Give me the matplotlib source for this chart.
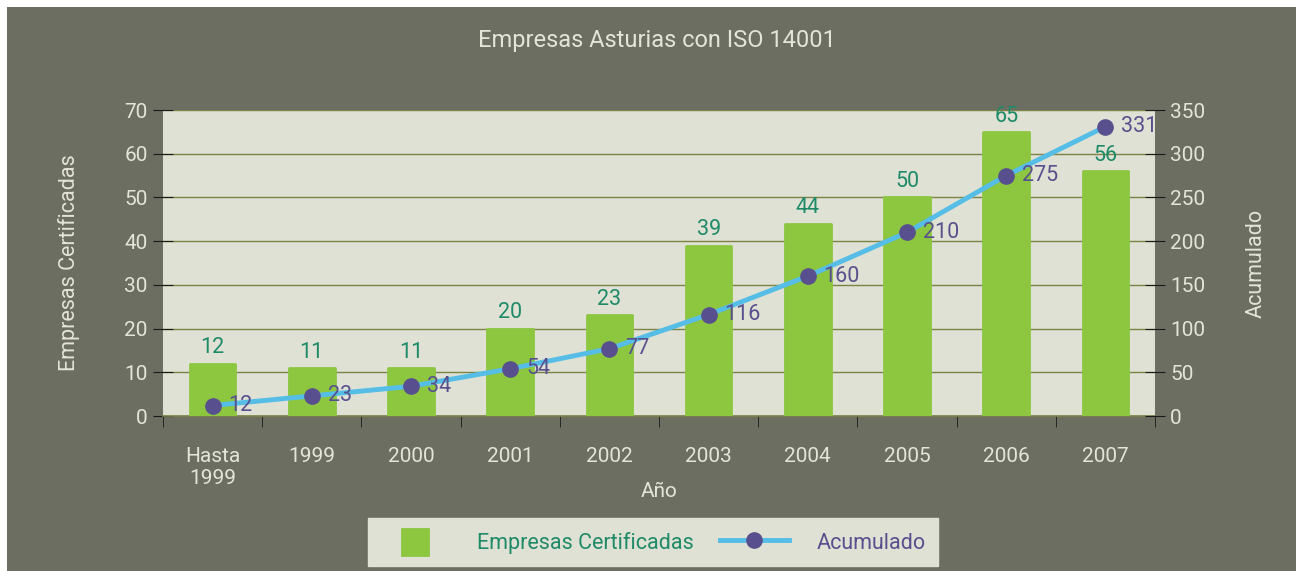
import numpy as np
import matplotlib
matplotlib.use("Agg")
import matplotlib.pyplot as plt
from matplotlib.patches import Rectangle
from matplotlib.legend_handler import HandlerPatch

plt.rcParams['font.family'] = ['Roboto', 'DejaVu Sans']

# datos
years = ["Hasta\n1999", "1999", "2000", "2001", "2002", "2003", "2004", "2005", "2006", "2007"]
certificadas = [12, 11, 11, 20, 23, 39, 44, 50, 65, 56]
acumulado = [12, 23, 34, 54, 77, 116, 160, 210, 275, 331]

bg = "#6d6e62"
panel = "#dfe1d4"
txt = "#e4e4d8"
green_bar = "#8dc63f"
green_txt = "#1e8a68"
blue = "#55bde6"
purple = "#58508e"
grid = "#7e8245"

fig = plt.figure(figsize=(12.96, 5.71), dpi=100, facecolor="white")
fig.patches.append(Rectangle((7/1296, 0), 1, 1 - 7/571, transform=fig.transFigure,
                             facecolor=bg, edgecolor="none", zorder=-10))

ax = fig.add_axes([163/1296, 1 - 416/571, (1155 - 163)/1296, (416 - 110)/571])
ax.set_facecolor(panel)
x = np.arange(len(years))

bars = ax.bar(x, certificadas, width=0.46, color=green_bar, edgecolor=green_bar,
              linewidth=2, joinstyle="round", zorder=3, label="Empresas Certificadas")
for xi, v in zip(x, certificadas):
    ax.text(xi, v + 1.2, str(v), ha="center", va="bottom", color=green_txt, fontsize=15.5, zorder=5)

ax.set_xlim(-0.5, len(years) - 0.5)
ax.set_ylim(0, 70)
ax.set_yticks(range(0, 71, 10))
ax.yaxis.grid(True, color=grid, linewidth=1)
ax.set_axisbelow(True)
ax.set_xticks(x)
ax.set_xticklabels(years)
ax.set_xticks(np.arange(-0.5, len(years), 1), minor=True)
ax.tick_params(axis="x", which="major", length=0, pad=22, colors=txt, labelsize=15)
ax.tick_params(axis="x", which="minor", length=8, direction="out", color="#1a1a1a")
ax.tick_params(axis="y", direction="inout", length=14, color="#1a1a1a", colors=txt, labelsize=15, pad=4)
for s in ["top", "right", "left"]:
    ax.spines[s].set_visible(False)
ax.spines["bottom"].set_color(grid)
ax.spines["bottom"].set_linewidth(1.2)
ax.set_xlabel("Año", color=txt, fontsize=15, labelpad=-4)
ax.set_ylabel("Empresas Certificadas", color=txt, fontsize=15.5, labelpad=32)

ax2 = ax.twinx()
line, = ax2.plot(x, acumulado, color=blue, linewidth=3.5, marker="o", markersize=11,
                 markerfacecolor=purple, markeredgecolor=purple, zorder=4, label="Acumulado")
for xi, v in zip(x, acumulado):
    ax2.text(xi + 0.16, v, str(v), ha="left", va="center", color=purple, fontsize=15.5, zorder=5)
ax2.set_ylim(0, 350)
ax2.set_yticks(range(0, 351, 50))
ax2.tick_params(axis="y", direction="inout", length=14, color="#1a1a1a", colors=txt, labelsize=15, pad=4)
for s in ["top", "right", "left", "bottom"]:
    ax2.spines[s].set_visible(False)
ax2.set_ylabel("Acumulado", color=txt, fontsize=15.5, labelpad=29)

fig.text(657/1296, 1 - 40/571, "Empresas Asturias con ISO 14001", ha="center", va="center",
         color=txt, fontsize=17)


def square_patch(legend, orig_handle, xdescent, ydescent, width, height, fontsize):
    s = height * 1.1
    return Rectangle((-xdescent + (width - s) / 2, -ydescent + (height - s) / 2), s, s)


leg = fig.legend([bars.patches[0], line], ["Empresas Certificadas", "Acumulado"], loc="center",
                 bbox_to_anchor=(653/1296, 1 - 542/571), ncol=2, frameon=True, fancybox=False,
                 facecolor=panel, edgecolor=panel, framealpha=1, fontsize=15.5,
                 handlelength=3.2, handleheight=1.3, columnspacing=1.2, borderpad=0.55,
                 handletextpad=1.3,
                 handler_map={Rectangle: HandlerPatch(patch_func=square_patch)})
leg.get_texts()[0].set_color(green_txt)
leg.get_texts()[1].set_color(purple)

fig.savefig("out.png", dpi=100, facecolor=fig.get_facecolor())
